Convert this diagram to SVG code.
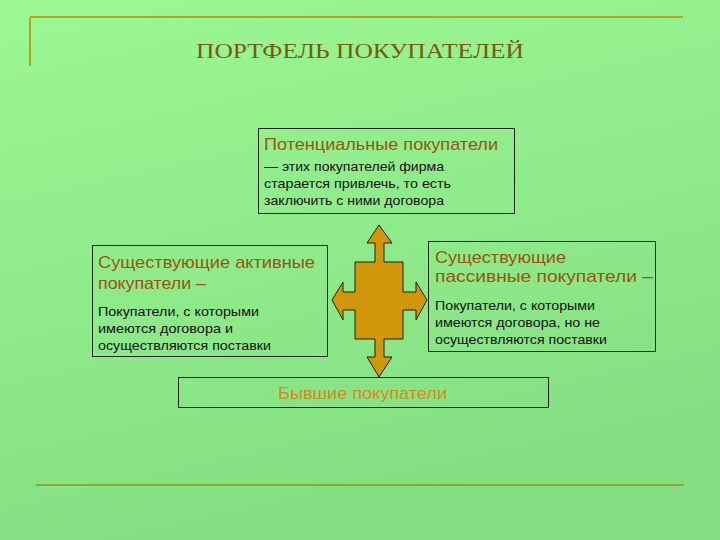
<svg xmlns="http://www.w3.org/2000/svg" width="720" height="540" viewBox="0 0 720 540">
<defs>
<linearGradient id="bg" x1="0" y1="0" x2="0.3" y2="1">
<stop offset="0" stop-color="#9bf893"/>
<stop offset="1" stop-color="#84df82"/>
</linearGradient>
<style>
.box{fill:none;stroke:#1a2410;stroke-width:1}
.h{font-family:"Liberation Sans",Arial,sans-serif;font-size:17px;fill:#9a5410}
.b{font-family:"Liberation Sans",Arial,sans-serif;font-size:13px;fill:#111}
.frame{stroke:#b9a21e;stroke-width:2;fill:none}
</style>
</defs>
<rect width="720" height="540" fill="url(#bg)"/>
<g id="frame">
<path class="frame" d="M30 17 H683 M30 17 V66"/>
<path d="M36 485 H684" stroke="#8fa630" stroke-width="2"/>
</g>
<g id="title">
<text x="360" y="58" text-anchor="middle" font-family="Liberation Serif,Times New Roman,serif" font-size="22" fill="#7a5a12" textLength="328" lengthAdjust="spacingAndGlyphs">ПОРТФЕЛЬ ПОКУПАТЕЛЕЙ</text>
</g>
<g id="connectors">
<path d="M379 225 L392 243 L384 243 L384 262 L403 262 L403 292 L416 292 L416 282 L427 300 L416 320 L416 310 L403 310 L403 339 L384 339 L384 357 L392 357 L379 377 L367 357 L375 357 L375 339 L355 339 L355 310 L343 310 L343 320 L332 300 L343 282 L343 292 L355 292 L355 262 L375 262 L375 243 L367 243 Z" fill="#d2960c" stroke="#1a2410" stroke-width="1"/>
</g>
<g id="potential">
<rect class="box" x="258.5" y="128.5" width="256" height="85"/>
<text class="h" x="264" y="150" textLength="234" lengthAdjust="spacingAndGlyphs">Потенциальные покупатели</text>
<text class="b" x="264" y="171" textLength="180" lengthAdjust="spacingAndGlyphs">— этих покупателей фирма</text>
<text class="b" x="264" y="188" textLength="187" lengthAdjust="spacingAndGlyphs">старается привлечь, то есть</text>
<text class="b" x="264" y="205" textLength="180" lengthAdjust="spacingAndGlyphs">заключить с ними договора</text>
</g>
<g id="active">
<rect class="box" x="92.5" y="245.5" width="235" height="111"/>
<text class="h" x="98" y="268" textLength="217" lengthAdjust="spacingAndGlyphs">Существующие активные</text>
<text class="h" x="98" y="289" textLength="108" lengthAdjust="spacingAndGlyphs">покупатели –</text>
<text class="b" x="98" y="316" textLength="161" lengthAdjust="spacingAndGlyphs">Покупатели, с которыми</text>
<text class="b" x="98" y="333" textLength="135" lengthAdjust="spacingAndGlyphs">имеются договора и</text>
<text class="b" x="98" y="350" textLength="173" lengthAdjust="spacingAndGlyphs">осуществляются поставки</text>
</g>
<g id="passive">
<rect class="box" x="428.5" y="241.5" width="227" height="110"/>
<text class="h" x="435" y="263" textLength="131" lengthAdjust="spacingAndGlyphs">Существующие</text>
<text class="h" x="435" y="282" textLength="218" lengthAdjust="spacingAndGlyphs">пассивные покупатели –</text>
<text class="b" x="435" y="310" textLength="160" lengthAdjust="spacingAndGlyphs">Покупатели, с которыми</text>
<text class="b" x="435" y="327" textLength="165" lengthAdjust="spacingAndGlyphs">имеются договора, но не</text>
<text class="b" x="435" y="344" textLength="172" lengthAdjust="spacingAndGlyphs">осуществляются поставки</text>
</g>
<g id="former">
<rect class="box" x="178.5" y="377.5" width="370" height="30"/>
<text x="278" y="399" font-family="Liberation Sans,Arial,sans-serif" font-size="17" fill="#d48a1e" textLength="169" lengthAdjust="spacingAndGlyphs">Бывшие покупатели</text>
</g>
</svg>
